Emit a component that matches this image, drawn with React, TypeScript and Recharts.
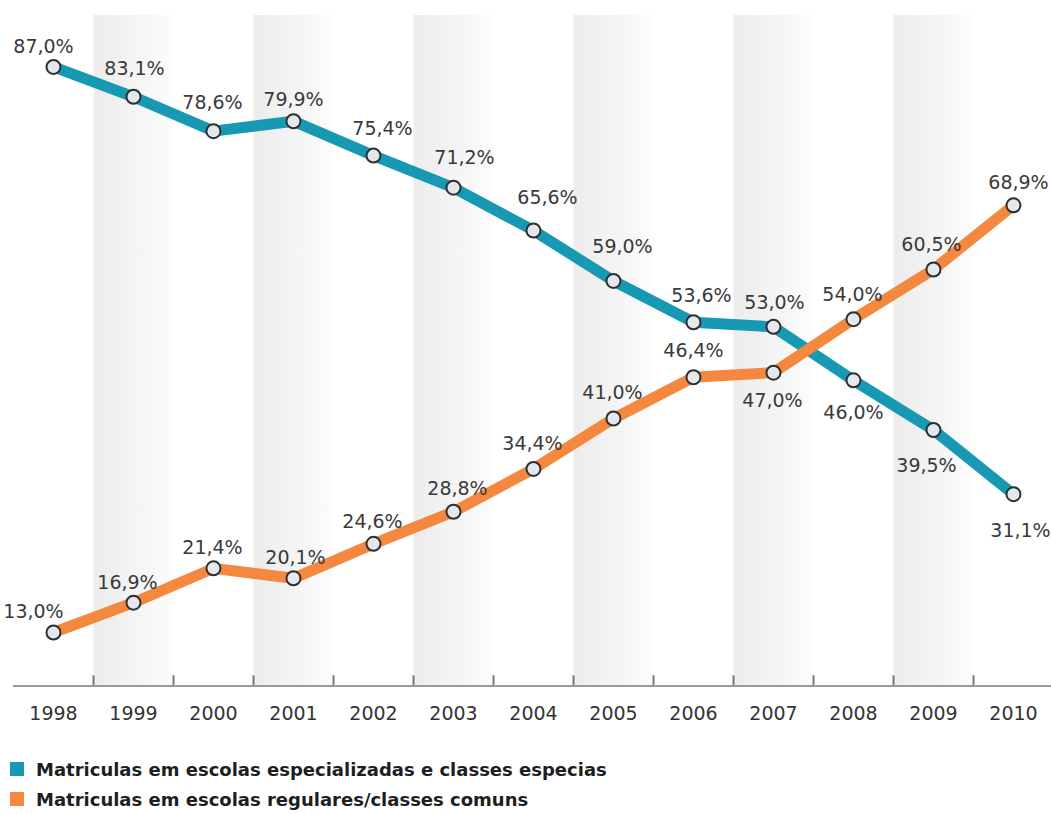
import React from 'react';
import { LineChart, Line, XAxis, YAxis, ReferenceArea, ReferenceLine, LabelList } from 'recharts';

const years = [1998, 1999, 2000, 2001, 2002, 2003, 2004, 2005, 2006, 2007, 2008, 2009, 2010];
const especiais = [87.0, 83.1, 78.6, 79.9, 75.4, 71.2, 65.6, 59.0, 53.6, 53.0, 46.0, 39.5, 31.1];
const comuns = [13.0, 16.9, 21.4, 20.1, 24.6, 28.8, 34.4, 41.0, 46.4, 47.0, 54.0, 60.5, 68.9];
const bandYears = [1999, 2001, 2003, 2005, 2007, 2009];
const boundaries = [1998.5, 1999.5, 2000.5, 2001.5, 2002.5, 2003.5, 2004.5, 2005.5, 2006.5, 2007.5, 2008.5, 2009.5];

const seriesNames = [
  'Matriculas em escolas especializadas e classes especias',
  'Matriculas em escolas regulares/classes comuns',
];

// label offsets (dx, dy) relative to each point
const especiaisLabelOffsets = [
  [-10, -21], [1, -29], [-1, -29], [0, -22], [9, -28], [11, -31], [14, -34],
  [9, -35], [8, -27], [1, -25], [0, 32], [-7, 35], [7, 36],
];
const comunsLabelOffsets = [
  [-20, -22], [-6, -21], [-1, -21], [2, -21], [-1, -23], [4, -24], [-1, -26],
  [-1, -27], [0, -27], [-1, 27], [-1, -25], [-2, -25], [5, -23],
];

const data = years.map((y, i) => ({ year: y, especiais: especiais[i], comuns: comuns[i] }));

const TEAL = '#1798b3';
const ORANGE = '#f4883f';
const FONT = 'DejaVu Sans';

const fmt = (v: number) => v.toFixed(1).replace('.', ',') + '%';

const makeLabel = (offsets: number[][]) => (props: any) => {
  const { x, y, value, index } = props;
  const [dx, dy] = offsets[index] || [0, -24];
  return (
    <text
      x={x + dx}
      y={y + dy}
      textAnchor="middle"
      dominantBaseline="central"
      fontFamily={FONT}
      fontSize={19}
      fill="#3a3a3a"
    >
      {fmt(value)}
    </text>
  );
};

const dotStyle = { r: 7, fill: '#e3e8ec', stroke: '#2f2f2f', strokeWidth: 2 };

export default function App() {
  return (
    <div style={{ position: 'absolute', left: 0, top: 0, width: 1051, height: 814, background: '#fff' }}>
      <LineChart
        width={1051}
        height={740}
        data={data}
        margin={{ top: 15, right: 0, bottom: 0, left: 13 }}
      >
        <defs>
          <linearGradient id="band" x1="0" y1="0" x2="1" y2="0">
            <stop offset="0%" stopColor="#ececec" />
            <stop offset="100%" stopColor="#fcfcfc" />
          </linearGradient>
        </defs>
        <XAxis
          dataKey="year"
          type="number"
          domain={[1997.494, 2010.469]}
          ticks={years}
          interval={0}
          allowDataOverflow
          height={54}
          tickLine={false}
          axisLine={{ stroke: '#9a9a9a', strokeWidth: 2 }}
          tick={{ fontFamily: FONT, fontSize: 19, fill: '#333' }}
          tickMargin={15}
        />
        <YAxis hide type="number" domain={[6, 93.8]} allowDataOverflow />
        {bandYears.map((b) => (
          <ReferenceArea
            key={b}
            x1={b - 0.5}
            x2={b + 0.5}
            y1={6}
            y2={93.8}
            fill="url(#band)"
            fillOpacity={1}
            stroke="none"
          />
        ))}
        {boundaries.map((b) => (
          <ReferenceLine
            key={b}
            segment={[{ x: b, y: 6 }, { x: b, y: 7.4 }]}
            stroke="#7a7a7a"
            strokeWidth={2}
          />
        ))}
        <Line
          dataKey="especiais"
          name={seriesNames[0]}
          stroke={TEAL}
          strokeWidth={11}
          dot={dotStyle}
          activeDot={false}
          isAnimationActive={false}
        >
          <LabelList dataKey="especiais" content={makeLabel(especiaisLabelOffsets)} />
        </Line>
        <Line
          dataKey="comuns"
          name={seriesNames[1]}
          stroke={ORANGE}
          strokeWidth={11}
          dot={dotStyle}
          activeDot={false}
          isAnimationActive={false}
        >
          <LabelList dataKey="comuns" content={makeLabel(comunsLabelOffsets)} />
        </Line>
      </LineChart>
      <div style={{ position: 'absolute', left: 10, top: 754, fontFamily: FONT, fontWeight: 'bold', fontSize: 18, color: '#1e1e1e' }}>
        {seriesNames.map((n, i) => (
          <div key={n} style={{ display: 'flex', alignItems: 'center', height: 30 }}>
            <span style={{ display: 'inline-block', width: 14, height: 14, background: i === 0 ? TEAL : ORANGE, marginRight: 12 }} />
            <span>{n}</span>
          </div>
        ))}
      </div>
    </div>
  );
}
